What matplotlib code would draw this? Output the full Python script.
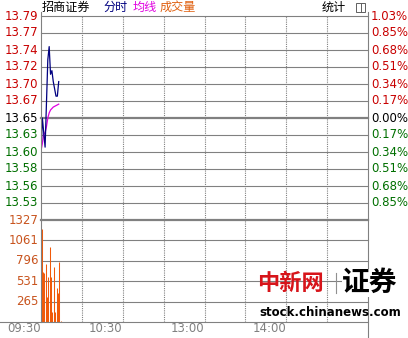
import matplotlib
matplotlib.use('Agg')
import matplotlib.pyplot as plt
from matplotlib.lines import Line2D
from matplotlib.patches import Rectangle
import numpy as np

W, H = 408, 338
CJK = ['Noto Sans CJK SC', 'DejaVu Sans']

# axis labels as printed on the chart
pre_close = 13.65
price_labels = ['13.79', '13.77', '13.74', '13.72', '13.70', '13.67',
                '13.65', '13.63', '13.60', '13.58', '13.56', '13.53']
pct_labels = ['1.03%', '0.85%', '0.68%', '0.51%', '0.34%', '0.17%',
              '0.00%', '0.17%', '0.34%', '0.51%', '0.68%', '0.85%']
vol_max = 1327
vol_labels = ['1327', '1061', '796', '531', '265']
time_labels = ['09:30', '10:30', '13:00', '14:00']
time_label_minutes = [0, 60, 120, 180]

# minute data, first quarter hour of trading
price = [13.60, 13.65, 13.63, 13.61, 13.67, 13.73, 13.748, 13.71, 13.715,
         13.70, 13.69, 13.68, 13.68, 13.70]
avg_price = [13.605, 13.615, 13.628, 13.630, 13.638, 13.650, 13.657, 13.661,
             13.663, 13.665, 13.666, 13.667, 13.668, 13.669]
volume = [1210, 650, 640, 750, 330, 590, 980, 580, 135, 710, 135, 440, 380,
          785, 12]

RED, GREEN, ORANGE, GRID = '#c80000', '#006f00', '#c8541e', '#808080'


def px(x, y):
    # image pixel -> figure fraction
    return x / W, 1 - y / H


fig = plt.figure(figsize=(W / 100, H / 100), dpi=100)
left, right = 41, 368
ax_p = fig.add_axes([left / W, 1 - 220 / H, (right - left) / W, 204 / H])
ax_v = fig.add_axes([left / W, 1 - 322 / H, (right - left) / W, 102 / H])

# 12 rows of grid, 6 above and 6 below the previous close
step = 0.28 / 12
levels = pre_close + step * np.arange(6, -6, -1)

for ax in (ax_p, ax_v):
    ax.set_xlim(0, 240)
    ax.axis('off')
    for m in range(30, 240, 30):
        ax.axvline(m, color=GRID, lw=0.8, ls=(0, (1, 1)), zorder=1)

ax_p.set_ylim(pre_close - 6 * step, pre_close + 6 * step)
for i, lv in enumerate(levels):
    thick = i == 6
    ax_p.axhline(lv, color=GRID, lw=1.6 if thick else 0.8, zorder=1, clip_on=False)
    col = RED if i < 6 else ('black' if i == 6 else GREEN)
    ax_p.text(-0.009, lv, price_labels[i], transform=ax_p.get_yaxis_transform(),
              ha='right', va='center', color=col, fontsize=8.5)
    ax_p.text(1.009, lv, pct_labels[i], transform=ax_p.get_yaxis_transform(),
              ha='left', va='center', color=col, fontsize=8.5)

ax_p.plot(range(len(avg_price)), avg_price, color='#e000e0', lw=0.9, zorder=3)
ax_p.plot(range(len(price)), price, color='#000080', lw=0.9, zorder=4)

ax_v.set_ylim(0, vol_max)
for i, lab in enumerate(vol_labels):
    lv = vol_max * (5 - i) / 5
    ax_v.axhline(lv, color=GRID, lw=1.6 if i == 0 else 0.8, zorder=1, clip_on=False)
    ax_v.text(-0.009, lv, lab, transform=ax_v.get_yaxis_transform(),
              ha='right', va='center', color=ORANGE, fontsize=8.5)
ax_v.vlines(np.arange(len(volume)) + 0.4, 0, volume, color='#f05a0a', lw=0.75, zorder=3)

for lab, m in zip(time_labels, time_label_minutes):
    ax_v.text(m, -0.06, lab, transform=ax_v.get_xaxis_transform(),
              ha='right', va='center', color=GRID, fontsize=8.5)

# frame
for (x0, y0), (x1, y1) in [((41, 12), (41, 322)), ((368, 12), (368, 338)),
                           ((0, 322), (368, 322))]:
    (fx0, fy0), (fx1, fy1) = px(x0, y0), px(x1, y1)
    fig.add_artist(Line2D([fx0, fx1], [fy0, fy1], color=GRID, lw=0.8))

# header
fig.text(*px(42, 7), '招商证券', family=CJK, fontsize=8.7, va='center')
fig.text(*px(103, 7), '分时', family=CJK, fontsize=8.7, va='center', color='#000080')
fig.text(*px(133, 7), '均线', family=CJK, fontsize=8.7, va='center', color='#e000e0')
fig.text(*px(160, 7), '成交量', family=CJK, fontsize=8.7, va='center', color='#e06010')
fig.text(*px(322, 7), '统计', family=CJK, fontsize=8.7, va='center')
bx, by = px(356, 12)
fig.add_artist(Rectangle((bx, by), 9 / W, 9 / H, fill=False, ec='#606060', lw=0.7))
fig.add_artist(Line2D([px(361, 0)[0]] * 2, [px(0, 3)[1], px(0, 12)[1]], color='#606060', lw=0.7))

# watermark
fig.text(*px(257, 283), '中新网', family=CJK, fontsize=16, weight='bold',
         color='#d7141a', va='center')
fig.add_artist(Line2D([px(336, 0)[0]] * 2, [px(0, 273)[1], px(0, 293)[1]],
                      color='#909090', lw=0.8))
fig.text(*px(342, 283), '证券', family=CJK, fontsize=20, weight='black',
         color='black', va='center',
         bbox=dict(fc='white', ec='none', pad=0))
fig.text(*px(259, 312), 'stock.chinanews.com', fontsize=8.5, weight='bold',
         color='black', va='center')

fig.savefig('out.png', dpi=100, facecolor='white')
